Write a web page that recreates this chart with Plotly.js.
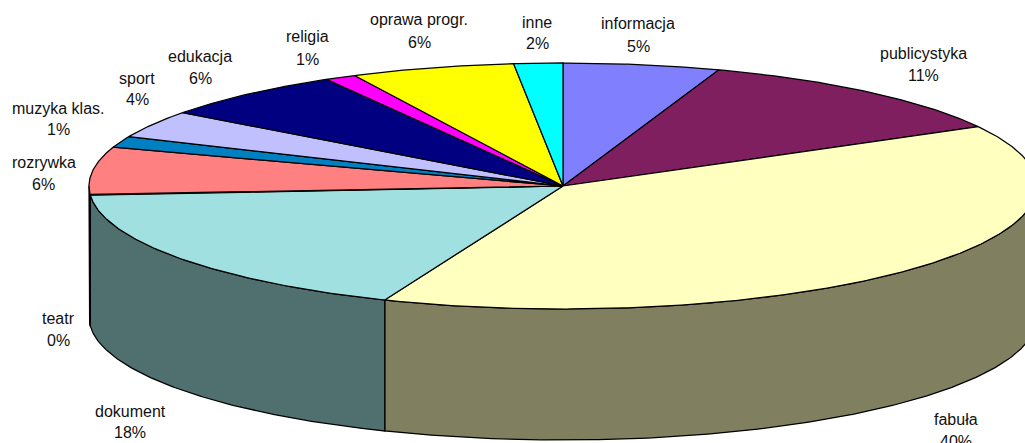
<!DOCTYPE html>
<html>
<head>
<meta charset="utf-8">
<script src="https://cdn.plot.ly/plotly-3.0.1.min.js"></script>
<style>html,body{margin:0;padding:0;background:#fff}#chart{width:1025px;height:443px}</style>
</head>
<body>
<div id="chart"></div>
<script>
const categories = ["informacja","publicystyka","fabuła","dokument","teatr","rozrywka","muzyka klas.","sport","edukacja","religia","oprawa progr.","inne"];
const sharePercent = [5.33,11.64,39.11,17.65,0.1,6.2,1.46,3.6,6.5,1.07,5.58,1.66];
const percentLabels = ["5%","11%","40%","18%","0%","6%","1%","4%","6%","1%","6%","2%"];
const topColors = ["#8080FF","#7F1F5F","#FFFFC0","#A0E0E0","#600080","#FF8080","#0080C0","#C0C0FF","#000080","#FF00FF","#FFFF00","#00FFFF"];

// label anchors in page pixels: [x, y of name, y of percent]
const labelAnchors = [[638,24,46],[923,53,75],[956,419,441],[130,411,432],[58,318,340],[43.5,162,184],[58,108,129],[137,78,99],[200,56,78],[307.5,37,59],[419,20,42],[537,22,43]];

const W = 1025, H = 443;
const CX = 563, CY = 186, RX = 474, RY = 123, DEPTH = 131; // pie placement in pixels
const BLACK = "#000";

function halve(hex){
  const n = parseInt(hex.slice(1),16);
  const c = [n>>16,(n>>8)&255,n&255].map(v=>Math.round(v/2));
  return `rgb(${c[0]},${c[1]},${c[2]})`;
}
// unit pie coordinates: x in radii, y in radii of the tilted ellipse
const px = deg => Math.sin(deg*Math.PI/180);
const py = deg => Math.cos(deg*Math.PI/180);
function arc(a,b,drop){
  const xs=[],ys=[];
  const n=Math.max(2,Math.ceil(Math.abs(b-a)*2));
  for(let i=0;i<=n;i++){const t=a+(b-a)*i/n;xs.push(px(t));ys.push(py(t)-drop);}
  return [xs,ys];
}

const total = sharePercent.reduce((s,v)=>s+v,0);
const drop = DEPTH/RY;
const sides=[], tops=[];
let cum=0;
sharePercent.forEach((v,i)=>{
  const a=cum/total*360, b=(cum+v)/total*360;
  cum+=v;
  const [tx,ty]=arc(a,b,0);
  tops.push({x:[0,...tx,0],y:[0,...ty,0],type:"scatter",mode:"lines",fill:"toself",fillcolor:topColors[i],
    line:{color:BLACK,width:1.25},hoverinfo:"text",text:categories[i]+" "+percentLabels[i],showlegend:false,name:categories[i]});
  const lo=Math.max(a,90), hi=Math.min(b,270);
  if(hi>lo){
    const [ux,uy]=arc(lo,hi,0);
    const [dx,dy]=arc(hi,lo,drop);
    const closeX=[...ux,...dx,ux[0]], closeY=[...uy,...dy,uy[0]];
    sides.push({x:closeX,y:closeY,type:"scatter",mode:"lines",fill:"toself",fillcolor:halve(topColors[i]),
      line:{color:BLACK,width:1.25},hoverinfo:"skip",showlegend:false});
  }
});

const annotations=[];
const textFont={family:"Liberation Sans, Arial, sans-serif",size:16,color:"#111"};
categories.forEach((c,i)=>{
  const [x,y1,y2]=labelAnchors[i];
  [[c,y1],[percentLabels[i],y2]].forEach(([t,y])=>{
    annotations.push({text:t,xref:"paper",yref:"paper",x:x/W,y:1-y/H,xanchor:"center",yanchor:"middle",showarrow:false,font:textFont,borderpad:0});
  });
});

const layout={
  width:W,height:H,margin:{l:0,r:0,t:0,b:0},
  paper_bgcolor:"#fff",plot_bgcolor:"#fff",showlegend:false,
  xaxis:{range:[(0-CX)/RX,(W-CX)/RX],visible:false,fixedrange:true},
  yaxis:{range:[(CY-H)/RY,CY/RY],visible:false,fixedrange:true},
  annotations
};
Plotly.newPlot("chart",[...sides,...tops],layout,{displayModeBar:false,staticPlot:true});
</script>
</body>
</html>
